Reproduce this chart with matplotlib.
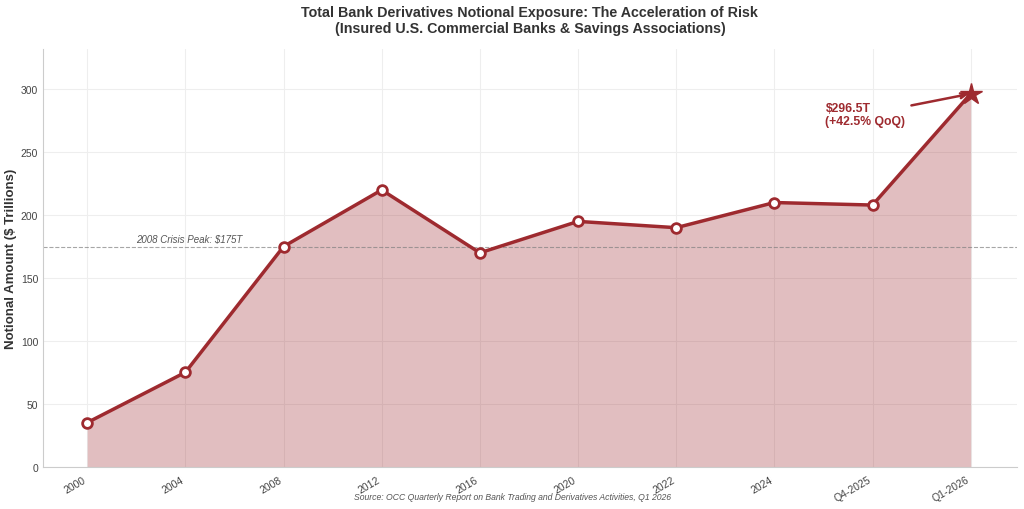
# Bank derivatives notional exposure chart

import matplotlib.pyplot as plt
import seaborn as sns
import numpy as np

periods = ['2000', '2004', '2008', '2012', '2016', '2020', '2022', '2024', 'Q4-2025', 'Q1-2026']
notional = [35, 75, 175, 220, 170, 195, 190, 210, 208, 296.5]
crisis_peak = 175

sns.set_style('whitegrid')
plt.rcParams['font.family'] = ['Liberation Sans', 'DejaVu Sans']

red = '#9e2a2f'

fig, ax = plt.subplots(figsize=(10.24, 5.1), dpi=100)
x = np.arange(len(periods))

ax.fill_between(x, notional, color=red, alpha=0.3, linewidth=0)
ax.plot(x[:-1], notional[:-1], color=red, linewidth=2.5, marker='o', markersize=7,
        markerfacecolor='white', markeredgecolor=red, markeredgewidth=2, zorder=3)
ax.plot(x[-2:], notional[-2:], color=red, linewidth=2.5, zorder=2)
ax.plot(x[-1], notional[-1], marker='*', markersize=16, color=red, zorder=4)

ax.axhline(crisis_peak, color='gray', linestyle='--', linewidth=0.8, alpha=0.7)
ax.text(0.5, crisis_peak + 2, '2008 Crisis Peak: $175T', fontsize=7, style='italic',
        color='#555555', va='bottom')

ax.annotate('$296.5T\n(+42.5% QoQ)', xy=(x[-1], notional[-1]), xytext=(7.52, 280),
            fontsize=8.8, fontweight='bold', color=red, va='center', ha='left',
            arrowprops=dict(arrowstyle='->', color=red, lw=1.8))

ax.set_xticks(x)
ax.set_xticklabels(periods, rotation=30, ha='right')
ax.tick_params(axis='both', labelsize=7.5, colors='#444444')
ax.tick_params(axis='y', pad=0)
ax.tick_params(axis='x', pad=2)
ax.set_xlim(-0.45, 9.47)
ax.set_ylim(0, max(notional) * 1.12)
ax.set_ylabel('Notional Amount ($ Trillions)', fontsize=9.5, fontweight='bold',
              color='#333333', labelpad=3)
ax.set_title('Total Bank Derivatives Notional Exposure: The Acceleration of Risk\n'
             '(Insured U.S. Commercial Banks & Savings Associations)',
             fontsize=10.3, fontweight='bold', color='#333333', pad=12)
ax.grid(True, color='#eeeeee')
ax.spines['top'].set_visible(False)
ax.spines['right'].set_visible(False)
for s in ['left', 'bottom']:
    ax.spines[s].set_color('#cccccc')

fig.text(0.5, 0.02, 'Source: OCC Quarterly Report on Bank Trading and Derivatives Activities, Q1 2026',
         ha='center', fontsize=6.2, style='italic', color='#555555')

plt.subplots_adjust(left=0.042, right=0.993, top=0.902, bottom=0.083)
fig.savefig('out.png')
